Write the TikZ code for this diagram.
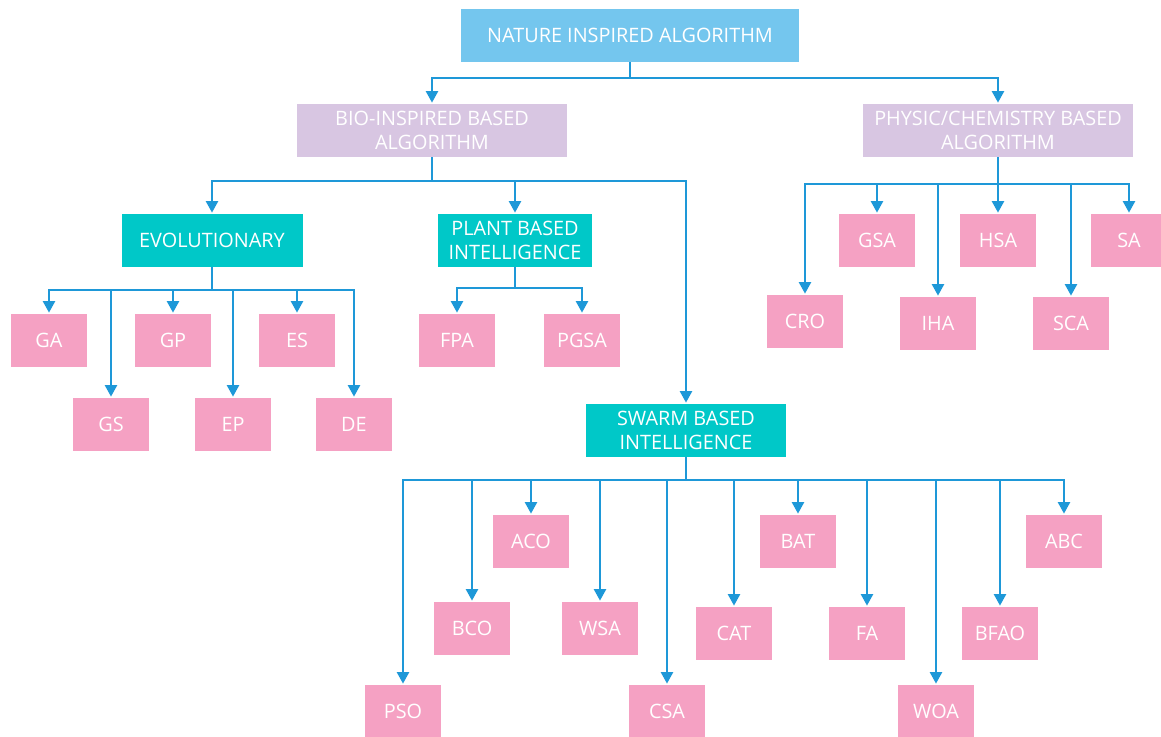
\documentclass[tikz,border=0pt]{standalone}
\usepackage{fontspec}
\setmainfont{Open Sans}
\usepackage{xcolor}
\usepackage{tikz}
\usetikzlibrary{arrows.meta}
\definecolor{rootblue}{HTML}{74C6EE}
\definecolor{lilac}{HTML}{D8C6E2}
\definecolor{teal}{HTML}{00C8C8}
\definecolor{pink}{HTML}{F5A1C3}
\definecolor{link}{HTML}{1E98D8}
\tikzset{
  box/.style={
    draw=white, line width=0.5pt,
    text=white, align=center, inner sep=0pt,
    minimum height=1.08cm,
    font=\fontsize{11.3}{13.6}\selectfont
  },
  RootBox/.style={box, fill=rootblue, minimum width=6.78cm},
  GroupBox/.style={box, fill=lilac, minimum width=5.42cm},
  FamBox/.style={box, fill=teal},
  LeafBox/.style={box, fill=pink, minimum width=1.54cm},
  Link/.style={
    draw=link, line width=0.75pt,
    -{Triangle[width=7pt,length=6.5pt]}
  }
}

\begin{document}
\begin{tikzpicture}[x=0.02cm, y=-0.02cm]
  \useasboundingbox (0,0) rectangle (1161,737);

  \node[RootBox] (root) at (630,35) {NATURE INSPIRED ALGORITHM};
  \node[GroupBox] (bio) at (432,130) {BIO-INSPIRED BASED\\ALGORITHM};
  \node[GroupBox] (phys) at (998,130) {PHYSIC/CHEMISTRY BASED\\ALGORITHM};

  \node[FamBox, minimum width=3.64cm] (evo) at (212,240) {EVOLUTIONARY};
  \node[FamBox, minimum width=3.1cm] (plant) at (515,240) {PLANT BASED\\INTELLIGENCE};
  \node[FamBox, minimum width=4.02cm] (swarm) at (686,430) {SWARM BASED\\INTELLIGENCE};

  % evolutionary
  \node[LeafBox] (ga) at (49,340) {GA};
  \node[LeafBox] (gp) at (173,340) {GP};
  \node[LeafBox] (es) at (297,340) {ES};
  \node[LeafBox] (gs) at (111,424) {GS};
  \node[LeafBox] (ep) at (233,424) {EP};
  \node[LeafBox] (de) at (354,424) {DE};

  % plant based
  \node[LeafBox] (fpa) at (457,340) {FPA};
  \node[LeafBox] (pgsa) at (582,340) {PGSA};

  % physic / chemistry
  \node[LeafBox] (gsa) at (877,240) {GSA};
  \node[LeafBox] (hsa) at (998,240) {HSA};
  \node[LeafBox] (sa) at (1129,240) {SA};
  \node[LeafBox] (cro) at (805,321) {CRO};
  \node[LeafBox] (iha) at (938,323) {IHA};
  \node[LeafBox] (sca) at (1071,323) {SCA};

  % swarm based
  \node[LeafBox] (aco) at (531,541) {ACO};
  \node[LeafBox] (bat) at (798,541) {BAT};
  \node[LeafBox] (abc) at (1064,541) {ABC};
  \node[LeafBox] (bco) at (472,628) {BCO};
  \node[LeafBox] (wsa) at (600,628) {WSA};
  \node[LeafBox] (cat) at (734,633) {CAT};
  \node[LeafBox] (fa) at (867,633) {FA};
  \node[LeafBox] (bfao) at (1000,633) {BFAO};
  \node[LeafBox] (pso) at (403,711) {PSO};
  \node[LeafBox] (csa) at (667,711) {CSA};
  \node[LeafBox] (woa) at (936,711) {WOA};

  % bus points
  \coordinate (rootbus) at (630,78);
  \coordinate (biobus) at (432,181);
  \coordinate (physbus) at (998,184);
  \coordinate (evobus) at (212,290);
  \coordinate (plantbus) at (515,288);
  \coordinate (swarmbus) at (686,480);

  \draw[Link] (root.south) -- (rootbus) -| (bio);
  \draw[Link] (rootbus) -| (phys);

  \draw[Link] (bio.south) -- (biobus) -| (evo);
  \draw[Link] (biobus) -| (plant);
  \draw[Link] (biobus) -| (swarm);

  \draw[draw=link, line width=0.75pt] (evo.south) -- (evobus);
  \draw[Link] (evobus) -| (ga);
  \draw[Link] (evobus) -| (gs);
  \draw[Link] (evobus) -| (gp);
  \draw[Link] (evobus) -| (ep);
  \draw[Link] (evobus) -| (es);
  \draw[Link] (evobus) -| (de);

  \draw[draw=link, line width=0.75pt] (plant.south) -- (plantbus);
  \draw[Link] (plantbus) -| (fpa);
  \draw[Link] (plantbus) -| (pgsa);

  \draw[draw=link, line width=0.75pt] (phys.south) -- (physbus);
  \draw[Link] (physbus) -| (cro);
  \draw[Link] (physbus) -| (gsa);
  \draw[Link] (physbus) -| (iha);
  \draw[Link] (physbus) -| (hsa);
  \draw[Link] (physbus) -| (sca);
  \draw[Link] (physbus) -| (sa);

  \draw[draw=link, line width=0.75pt] (swarm.south) -- (swarmbus);
  \draw[Link] (swarmbus) -| (pso);
  \draw[Link] (swarmbus) -| (bco);
  \draw[Link] (swarmbus) -| (aco);
  \draw[Link] (swarmbus) -| (wsa);
  \draw[Link] (swarmbus) -| (csa);
  \draw[Link] (swarmbus) -| (cat);
  \draw[Link] (swarmbus) -| (bat);
  \draw[Link] (swarmbus) -| (fa);
  \draw[Link] (swarmbus) -| (woa);
  \draw[Link] (swarmbus) -| (bfao);
  \draw[Link] (swarmbus) -| (abc);
\end{tikzpicture}
\end{document}
